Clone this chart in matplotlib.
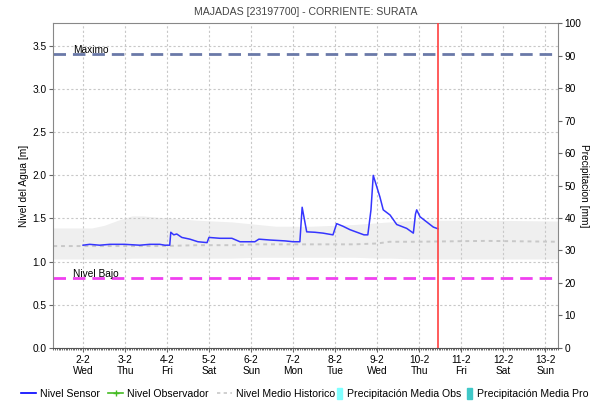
import pandas as pd
import matplotlib
matplotlib.use("Agg")
import matplotlib.pyplot as plt
import matplotlib.dates as mdates
from matplotlib.lines import Line2D
from matplotlib.patches import Rectangle

plt.rcParams["font.family"] = ["Liberation Sans", "DejaVu Sans"]
plt.rcParams["font.size"] = 7.3

# Serie del sensor: horas desde 2022-02-02 00:00 y nivel en metros
t0 = pd.Timestamp("2022-02-02 00:00")
sensor_h = [0, 3.8, 9.5, 15.3, 23.8, 32.4, 38.1, 43.8, 46.7, 49.5, 50.1, 51.8, 53.5, 56.4,
            61.0, 65.6, 70.8, 71.9, 78.2, 85.0, 89.6, 98.1, 100.4, 106.7, 115.3, 119.9,
            123.8, 125.1, 127.7, 132.4, 137.0, 142.7, 144.8, 148.4, 152.4, 156.4, 160.4,
            162.6, 164.4, 165.7, 169.5, 171.4, 175.3, 179.1, 184.8, 188.6, 189.8, 190.5,
            192.4, 196.2, 200.0, 202.7]
sensor_m = [1.19, 1.20, 1.19, 1.20, 1.20, 1.19, 1.20, 1.20, 1.19, 1.19, 1.34, 1.31, 1.32, 1.28,
            1.26, 1.23, 1.22, 1.28, 1.27, 1.27, 1.23, 1.23, 1.26, 1.25, 1.24, 1.23,
            1.23, 1.63, 1.345, 1.34, 1.33, 1.31, 1.44, 1.41, 1.37, 1.34, 1.31,
            1.31, 1.60, 2.00, 1.75, 1.60, 1.54, 1.43, 1.385, 1.33, 1.55, 1.60,
            1.52, 1.46, 1.40, 1.38]

# Rango historico (banda) y nivel medio historico
hist_h = [-17, 5, 12, 20, 28, 34, 45, 65, 85, 100, 110, 130, 155, 168, 175, 190, 230, 271]
hist_max = [1.39, 1.39, 1.42, 1.48, 1.53, 1.53, 1.51, 1.48, 1.46, 1.43, 1.41, 1.41, 1.43,
            1.45, 1.46, 1.48, 1.48, 1.47]
hist_min = [1.03, 1.03, 1.03, 1.03, 1.04, 1.04, 1.04, 1.04, 1.04, 1.05, 1.05, 1.05, 1.05,
            1.04, 1.04, 1.03, 1.03, 1.03]
hist_med = [1.18, 1.18, 1.18, 1.18, 1.18, 1.18, 1.18, 1.19, 1.19, 1.20, 1.20, 1.20, 1.20,
            1.21, 1.23, 1.23, 1.24, 1.23]

nivel_maximo = 3.41
nivel_bajo = 0.81
hora_actual = 202.7

t_sensor = t0 + pd.to_timedelta(sensor_h, unit="h")
t_hist = t0 + pd.to_timedelta(hist_h, unit="h")
x_ini = pd.Timestamp("2022-02-01 07:00")
x_fin = pd.Timestamp("2022-02-13 07:00")

fig = plt.figure(figsize=(5.92, 4.03), dpi=100)
ax = fig.add_axes([0.090, 0.137, 0.852, 0.805])

ax.fill_between(t_hist, hist_min, hist_max, color="#efefef", lw=0, zorder=1)
ax.plot(t_hist, hist_med, color="#c8c8c8", lw=1.4, dashes=(2, 2), zorder=1.6)
ax.plot(t_sensor, sensor_m, color="#3535ff", lw=1.1, zorder=3)

ax.axhline(nivel_maximo, color="#6a79a8", lw=2, dashes=(4.5, 2.5), zorder=2)
ax.axhline(nivel_bajo, color="#f040f0", lw=2, dashes=(4.5, 2.5), zorder=2)
x_txt = pd.Timestamp("2022-02-01 18:30")
ax.text(x_txt, nivel_maximo - 0.01, "Maximo", fontsize=7.3, va="bottom", ha="left", zorder=5)
ax.text(x_txt, nivel_bajo - 0.01, "Nivel Bajo", fontsize=7.3, va="bottom", ha="left", zorder=5)
ax.axvline(t0 + pd.Timedelta(hours=hora_actual), color="#ff4040", lw=1.2, zorder=4)

ax.set_xlim(x_ini, x_fin)
ax.set_ylim(0, 3.763)
ax.set_yticks([0, 0.5, 1.0, 1.5, 2.0, 2.5, 3.0, 3.5])
ax.yaxis.set_major_formatter(plt.FormatStrFormatter("%.1f"))
ax.xaxis.set_major_locator(mdates.DayLocator())
ax.xaxis.set_minor_locator(mdates.HourLocator())
ax.xaxis.set_major_formatter(plt.FuncFormatter(
    lambda v, p: "{0}-{1}\n{2}".format(mdates.num2date(v).day, mdates.num2date(v).month,
                                        mdates.num2date(v).strftime("%a"))))
ax.set_axisbelow("line")
ax.grid(True, color="#c8c8c8", lw=0.8, dashes=(2, 2))
ax.tick_params(axis="x", which="major", length=3, color="#666666", pad=2)
ax.tick_params(axis="x", which="minor", length=1.5, width=0.5, color="#333333")
ax.tick_params(axis="y", length=3, color="#666666", pad=2)
ax.set_ylabel("Nivel del Agua [m]", fontsize=7.3, labelpad=2)
for s in ["left", "right", "top"]:
    ax.spines[s].set_color("#888888")
ax.spines["bottom"].set_color("#555555")

ax2 = ax.twinx()
ax2.set_ylim(0, 100)
ax2.set_yticks(range(0, 101, 10))
ax2.tick_params(axis="y", length=3, color="#666666", pad=2)
ax2.set_ylabel("Precipitacion [mm]", fontsize=7.3, rotation=270, va="center", ha="center")
ax2.yaxis.set_label_coords(1.052, 0.5)
for s in ["left", "right", "top", "bottom"]:
    ax2.spines[s].set_visible(False)

ax.set_title("MAJADAS [23197700] - CORRIENTE: SURATA", fontsize=7.6, color="#444444", pad=6)

# Leyenda en dos bloques: lineas de nivel y barras de precipitacion
h_niveles = [
    Line2D([], [], color="#0000ff", lw=1.2),
    Line2D([], [], color="#44bb22", lw=1.2, marker="+", markersize=4),
    Line2D([], [], color="#c8c8c8", lw=1.2, dashes=(2, 2)),
]
fig.legend(h_niveles, ["Nivel Sensor", "Nivel Observador", "Nivel Medio Historico"],
           loc="lower left", bbox_to_anchor=(0.022, -0.011), ncol=3, frameon=False,
           fontsize=7.6, handlelength=1.4, handletextpad=0.4, columnspacing=0.75,
           borderpad=0.3)
h_precip = [Rectangle((0, 0), 1, 1, color="#80ffff"), Rectangle((0, 0), 1, 1, color="#40c8c8")]
fig.legend(h_precip, ["Precipitación Media Obs", "Precipitación Media Pro"],
           loc="lower left", bbox_to_anchor=(0.555, -0.011), ncol=2, frameon=False,
           fontsize=7.6, handlelength=0.5, handleheight=1.2, handletextpad=0.4,
           columnspacing=0.6, borderpad=0.3)

fig.savefig("out.png", dpi=100)
